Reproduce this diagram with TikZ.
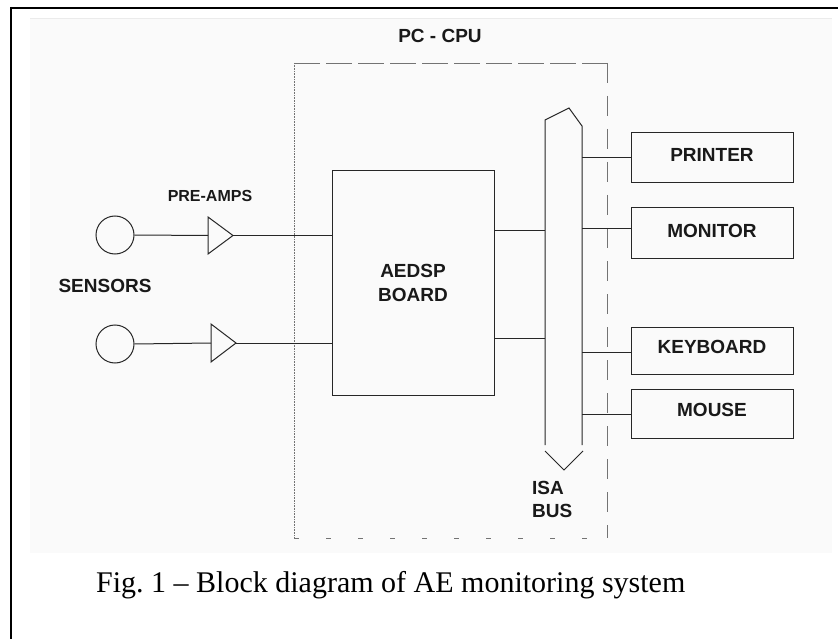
\documentclass[tikz,border=0pt]{standalone}
\usepackage{fontspec}
\setmainfont{Liberation Serif}
\setsansfont{Liberation Sans}
\begin{document}
\begin{tikzpicture}[x=1pt,y=-1pt,
  ln/.style={draw=black!85,line width=1pt},
  lbl/.style={font=\sffamily\bfseries\fontsize{19}{23}\selectfont,inner sep=0pt,text=black!90},
  periph/.style={ln,minimum width=162pt,minimum height=#1,inner sep=0pt,text=black!90,font=\sffamily\bfseries\fontsize{19}{23}\selectfont},
  sensor/.style={ln,circle,minimum size=38pt,inner sep=0pt},
  dbox/.style={draw=black!55,line width=0.8pt}
]
\useasboundingbox (0,0) rectangle (838,639);
\fill[white] (0,0) rectangle (838,639);
% faint background panel
\fill[black!2] (30,18) rectangle (832,553);
\draw[black!8,line width=0.8pt] (30,18) -- (832,18);
% outer frame
\draw[black,line width=2pt] (11,8) -- (838,8);
\draw[black,line width=2pt] (11,7) -- (11,639);

% PC-CPU dashed enclosure
\coordinate (ctl) at (294,63);
\coordinate (ctr) at (607,63);
\coordinate (cbl) at (294,538);
\coordinate (cbr) at (607,538);
\draw[dbox,dash pattern=on 1pt off 0.6pt] (ctl) -- (cbl);
\draw[dbox,dash pattern=on 26pt off 6pt] (ctl) -- (ctr);
\draw[dbox,dash pattern=on 20pt off 13pt] (ctr) -- (cbr);
\draw[dbox,dash pattern=on 5pt off 27pt] (cbl) -- (cbr);
\node[lbl] (pccpu) at (440,36) {PC - CPU};

% sensors
\node[sensor] (s1) at (115,235) {};
\node[sensor] (s2) at (115,344) {};
\node[lbl] (sens) at (105,286) {SENSORS};

% pre-amps
\coordinate (a1in) at (208,235.5);
\coordinate (a1out) at (233,235.5);
\coordinate (a2in) at (211,343);
\coordinate (a2out) at (236,343);
\draw[ln,line join=miter] (208,217) -- (a1out) -- (208,254) -- cycle;
\draw[ln,line join=miter] (211,324) -- (a2out) -- (211,362) -- cycle;
\node[lbl,font=\sffamily\bfseries\fontsize{16}{19}\selectfont] (pre) at (210,196) {PRE-AMPS};

% AEDSP board
\node[ln,minimum width=162pt,minimum height=224pt,inner sep=0pt,align=center,text=black!90,
  font=\sffamily\bfseries\fontsize{19}{24}\selectfont] (board) at (413,283) {AEDSP\\BOARD};

% ISA bus
\coordinate (bl) at (545,0);
\coordinate (br) at (582,0);
\draw[ln,line join=miter] (545,445) -- (545,120) -- (569,108) -- (582,126) -- (582,445);
\draw[ln,line join=miter] (545,451) -- (564,470) -- (583,451);
\node[lbl,align=left,anchor=west] (isa) at (532,499) {ISA\\BUS};

% peripherals
\node[periph=50pt] (pr) at (712,158) {\raisebox{6pt}{PRINTER}};
\node[periph=50pt] (mo) at (712,233) {\raisebox{5pt}{MONITOR}};
\node[periph=47pt] (kb) at (712,350.5) {\raisebox{7pt}{KEYBOARD}};
\node[periph=49pt] (ms) at (712,413.5) {\raisebox{7pt}{MOUSE}};

% connectors
\draw[ln] (s1.east) -- (a1in);
\draw[ln] (s2.east) -- (a2in);
\draw[ln] (a1out) -- (board.west |- a1out);
\draw[ln] (a2out) -- (board.west |- a2out);
\draw[ln] (board.east |- 0,231) -- (bl |- 0,231);
\draw[ln] (board.east |- 0,338) -- (bl |- 0,338);
\draw[ln] (br |- pr.west) -- (pr.west);
\draw[ln] (br |- 0,229) -- (mo.west |- 0,229);
\draw[ln] (br |- 0,352) -- (kb.west |- 0,352);
\draw[ln] (br |- 0,414) -- (ms.west |- 0,414);

% caption
\node[anchor=base west,inner sep=0pt,font=\fontsize{30}{36}\selectfont] (cap) at (96,592)
  {Fig.\ 1 -- Block diagram of AE monitoring system};
\end{tikzpicture}
\end{document}
